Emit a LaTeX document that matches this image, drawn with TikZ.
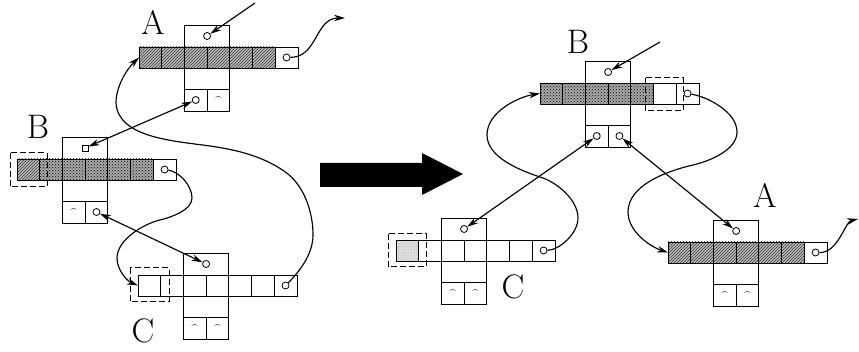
\documentclass[tikz,border=0pt]{standalone}
\usetikzlibrary{arrows.meta,patterns}
\begin{document}
\def\cw{22.7}
\def\ch{21}
\newcommand\recframe[3]{%
 \begin{scope}[shift={(#2,#3)}]
  \draw[cell] (0,0) rectangle ({7*\cw},\ch);
  \foreach \i in {1,...,6} \draw[cell] ({\i*\cw},0) -- ({\i*\cw},\ch);
  \draw[cell] ({2*\cw},-22) rectangle ({4*\cw},{\ch+43});
  \draw[cell] ({2*\cw},{\ch+21}) -- ({4*\cw},{\ch+21});
  \draw[cell] ({3*\cw},{\ch+21}) -- ({3*\cw},{\ch+43});
  \coordinate (#1-l) at (0,{\ch/2});
  \coordinate (#1-pt) at ({3*\cw},-11);
  \coordinate (#1-psl) at ({2.5*\cw},{\ch+32});
  \coordinate (#1-psr) at ({3.5*\cw},{\ch+32});
  \coordinate (#1-plast) at ({6.5*\cw},{\ch/2});
 \end{scope}}
\newcommand\fillcells[5]{%
 \begin{scope}[shift={(#1,#2)}]
  \foreach \i in {#3,...,#4} \fill[#5] ({(\i-1)*\cw},0) rectangle ({\i*\cw},\ch);
 \end{scope}}
\begin{tikzpicture}[x=1pt,y=-1pt,
 cell/.style={draw=black,line width=0.8pt},
 conn/.style={line width=1.15pt},
 tip/.style={-{Stealth[length=11pt,width=6.5pt]}},
 dtip/.style={{Stealth[length=11pt,width=6.5pt]}-{Stealth[length=11pt,width=6.5pt]}},
 dot/.style={circle,draw,line width=0.8pt,fill=white,inner sep=0pt,minimum size=7pt},
 sqm/.style={rectangle,draw,line width=0.8pt,fill=white,inner sep=0pt,minimum size=6pt},
 caret/.style={font=\fontsize{11}{11}\selectfont,inner sep=0pt},
 lbl/.style={font=\fontsize{34}{36}\selectfont,inner sep=0pt},
 hatch/.style={fill=gray!50,postaction={pattern=north east lines,pattern color=gray!40!black}},
 dark/.style={fill=gray!68,postaction={pattern=crosshatch dots,pattern color=black}},
 light/.style={fill=gray!25,postaction={pattern=dots,pattern color=gray}},
 ghost/.style={draw,line width=1pt,dash pattern=on 6pt off 3pt}]
\useasboundingbox (0,0) rectangle (859,352);

% ---------- left A
\fillcells{139}{47}{1}{6}{hatch}
\recframe{LA}{139}{47}
\node[dot] (LA-top) at (LA-pt) {};
\node[dot] (LA-sl) at (LA-psl) {};
\node[caret] (LA-sr) at (LA-psr) {\textasciicircum};
\node[dot] (LA-last) at (LA-plast) {};
\node[lbl] (tLA) at (153,22) {A};

% ---------- left B
\fillcells{17}{159}{1}{1}{hatch}
\fillcells{17}{159}{2}{6}{dark}
\recframe{LB}{17}{159}
\draw[ghost] (10,153) rectangle (47,187);
\node[sqm] (LB-top) at (LB-pt) {};
\node[caret] (LB-sl) at (LB-psl) {\textasciicircum};
\node[dot] (LB-sr) at (LB-psr) {};
\node[dot] (LB-last) at (LB-plast) {};
\node[lbl] (tLB) at (38,127) {B};

% ---------- left C
\recframe{LC}{138}{275}
\draw[ghost] (130,268) rectangle (169,302);
\node[dot] (LC-top) at (LC-pt) {};
\node[caret] (LC-sl) at (LC-psl) {\textasciicircum};
\node[caret] (LC-sr) at (LC-psr) {\textasciicircum};
\node[dot] (LC-last) at (LC-plast) {};
\node[lbl] (tLC) at (143,331) {C};

% ---------- right B
\fillcells{540}{83}{1}{5}{dark}
\recframe{RB}{540}{83}
\draw[ghost] (645,78) rectangle (683,111);
\node[dot] (RB-top) at (RB-pt) {};
\node[dot] (RB-sl) at (RB-psl) {};
\node[dot] (RB-sr) at (RB-psr) {};
\node[dot] (RB-last) at (RB-plast) {};
\node[lbl] (tRB) at (578,42) {B};

% ---------- right C
\fillcells{396}{240}{1}{1}{light}
\recframe{RC}{396}{240}
\draw[ghost] (388,234) rectangle (426,267);
\node[dot] (RC-top) at (RC-pt) {};
\node[caret] (RC-sl) at (RC-psl) {\textasciicircum};
\node[caret] (RC-sr) at (RC-psr) {\textasciicircum};
\node[dot] (RC-last) at (RC-plast) {};
\node[lbl] (tRC) at (513,287) {C};

% ---------- right A
\fillcells{668}{242}{1}{6}{hatch}
\recframe{RA}{668}{242}
\node[dot] (RA-top) at (RA-pt) {};
\node[caret] (RA-sl) at (RA-psl) {\textasciicircum};
\node[caret] (RA-sr) at (RA-psr) {\textasciicircum};
\node[dot] (RA-last) at (RA-plast) {};
\node[lbl] (tRA) at (765,195) {A};

% ---------- big arrow
\fill[black] (320,163) -- (422,163) -- (422,153) -- (463,174) -- (422,195) -- (422,187) -- (320,187) -- cycle;

% ---------- connectors, left
\coordinate (inLA) at (255,3);
\coordinate (outLA) at (345,18);
\draw[conn,tip] (inLA) -- (LA-top);
\draw[conn,tip] (LA-last) .. controls (318,57) and (315,18) .. (outLA);
\draw[conn,dtip] (LA-sl) -- (LB-top);
\draw[conn,dtip] (LB-sr) -- (LC-top);
\draw[conn,tip] (LC-last) .. controls (301,270) and (313,253) .. (313,235)
  .. controls (313,213) and (305,188) .. (288,174)
  .. controls (266,157) and (238,150) .. (210,146)
  .. controls (175,141) and (118,138) .. (116,103)
  .. controls (116,86) and (127,69) .. (LA-l);
\draw[conn,tip] (LB-last) .. controls (180,172) and (192,186) .. (192,198)
  .. controls (192,210) and (172,217) .. (160,220)
  .. controls (143,224) and (117,240) .. (117,258)
  .. controls (117,270) and (127,281) .. (LC-l);

% ---------- connectors, right
\coordinate (inRB) at (660,42);
\coordinate (outRA) at (858,219);
\draw[conn,tip] (inRB) -- (RB-top);
\draw[conn,dtip] (RB-sl) -- (RC-top);
\draw[conn,dtip] (RB-sr) -- (RA-top);
\draw[conn,tip] (RC-last) .. controls (559,250) and (578,234) .. (578,218)
  .. controls (578,200) and (557,182) .. (540,177)
  .. controls (519,170) and (487,157) .. (487,135)
  .. controls (487,112) and (518,97) .. (RB-l);
\draw[conn,tip] (RB-last) .. controls (708,97) and (737,112) .. (737,132)
  .. controls (737,150) and (710,161) .. (693,165)
  .. controls (667,171) and (628,185) .. (628,212)
  .. controls (628,232) and (651,247) .. (RA-l);
\draw[conn,tip] (RA-last) .. controls (838,253) and (845,222) .. (outRA);
\end{tikzpicture}
\end{document}
